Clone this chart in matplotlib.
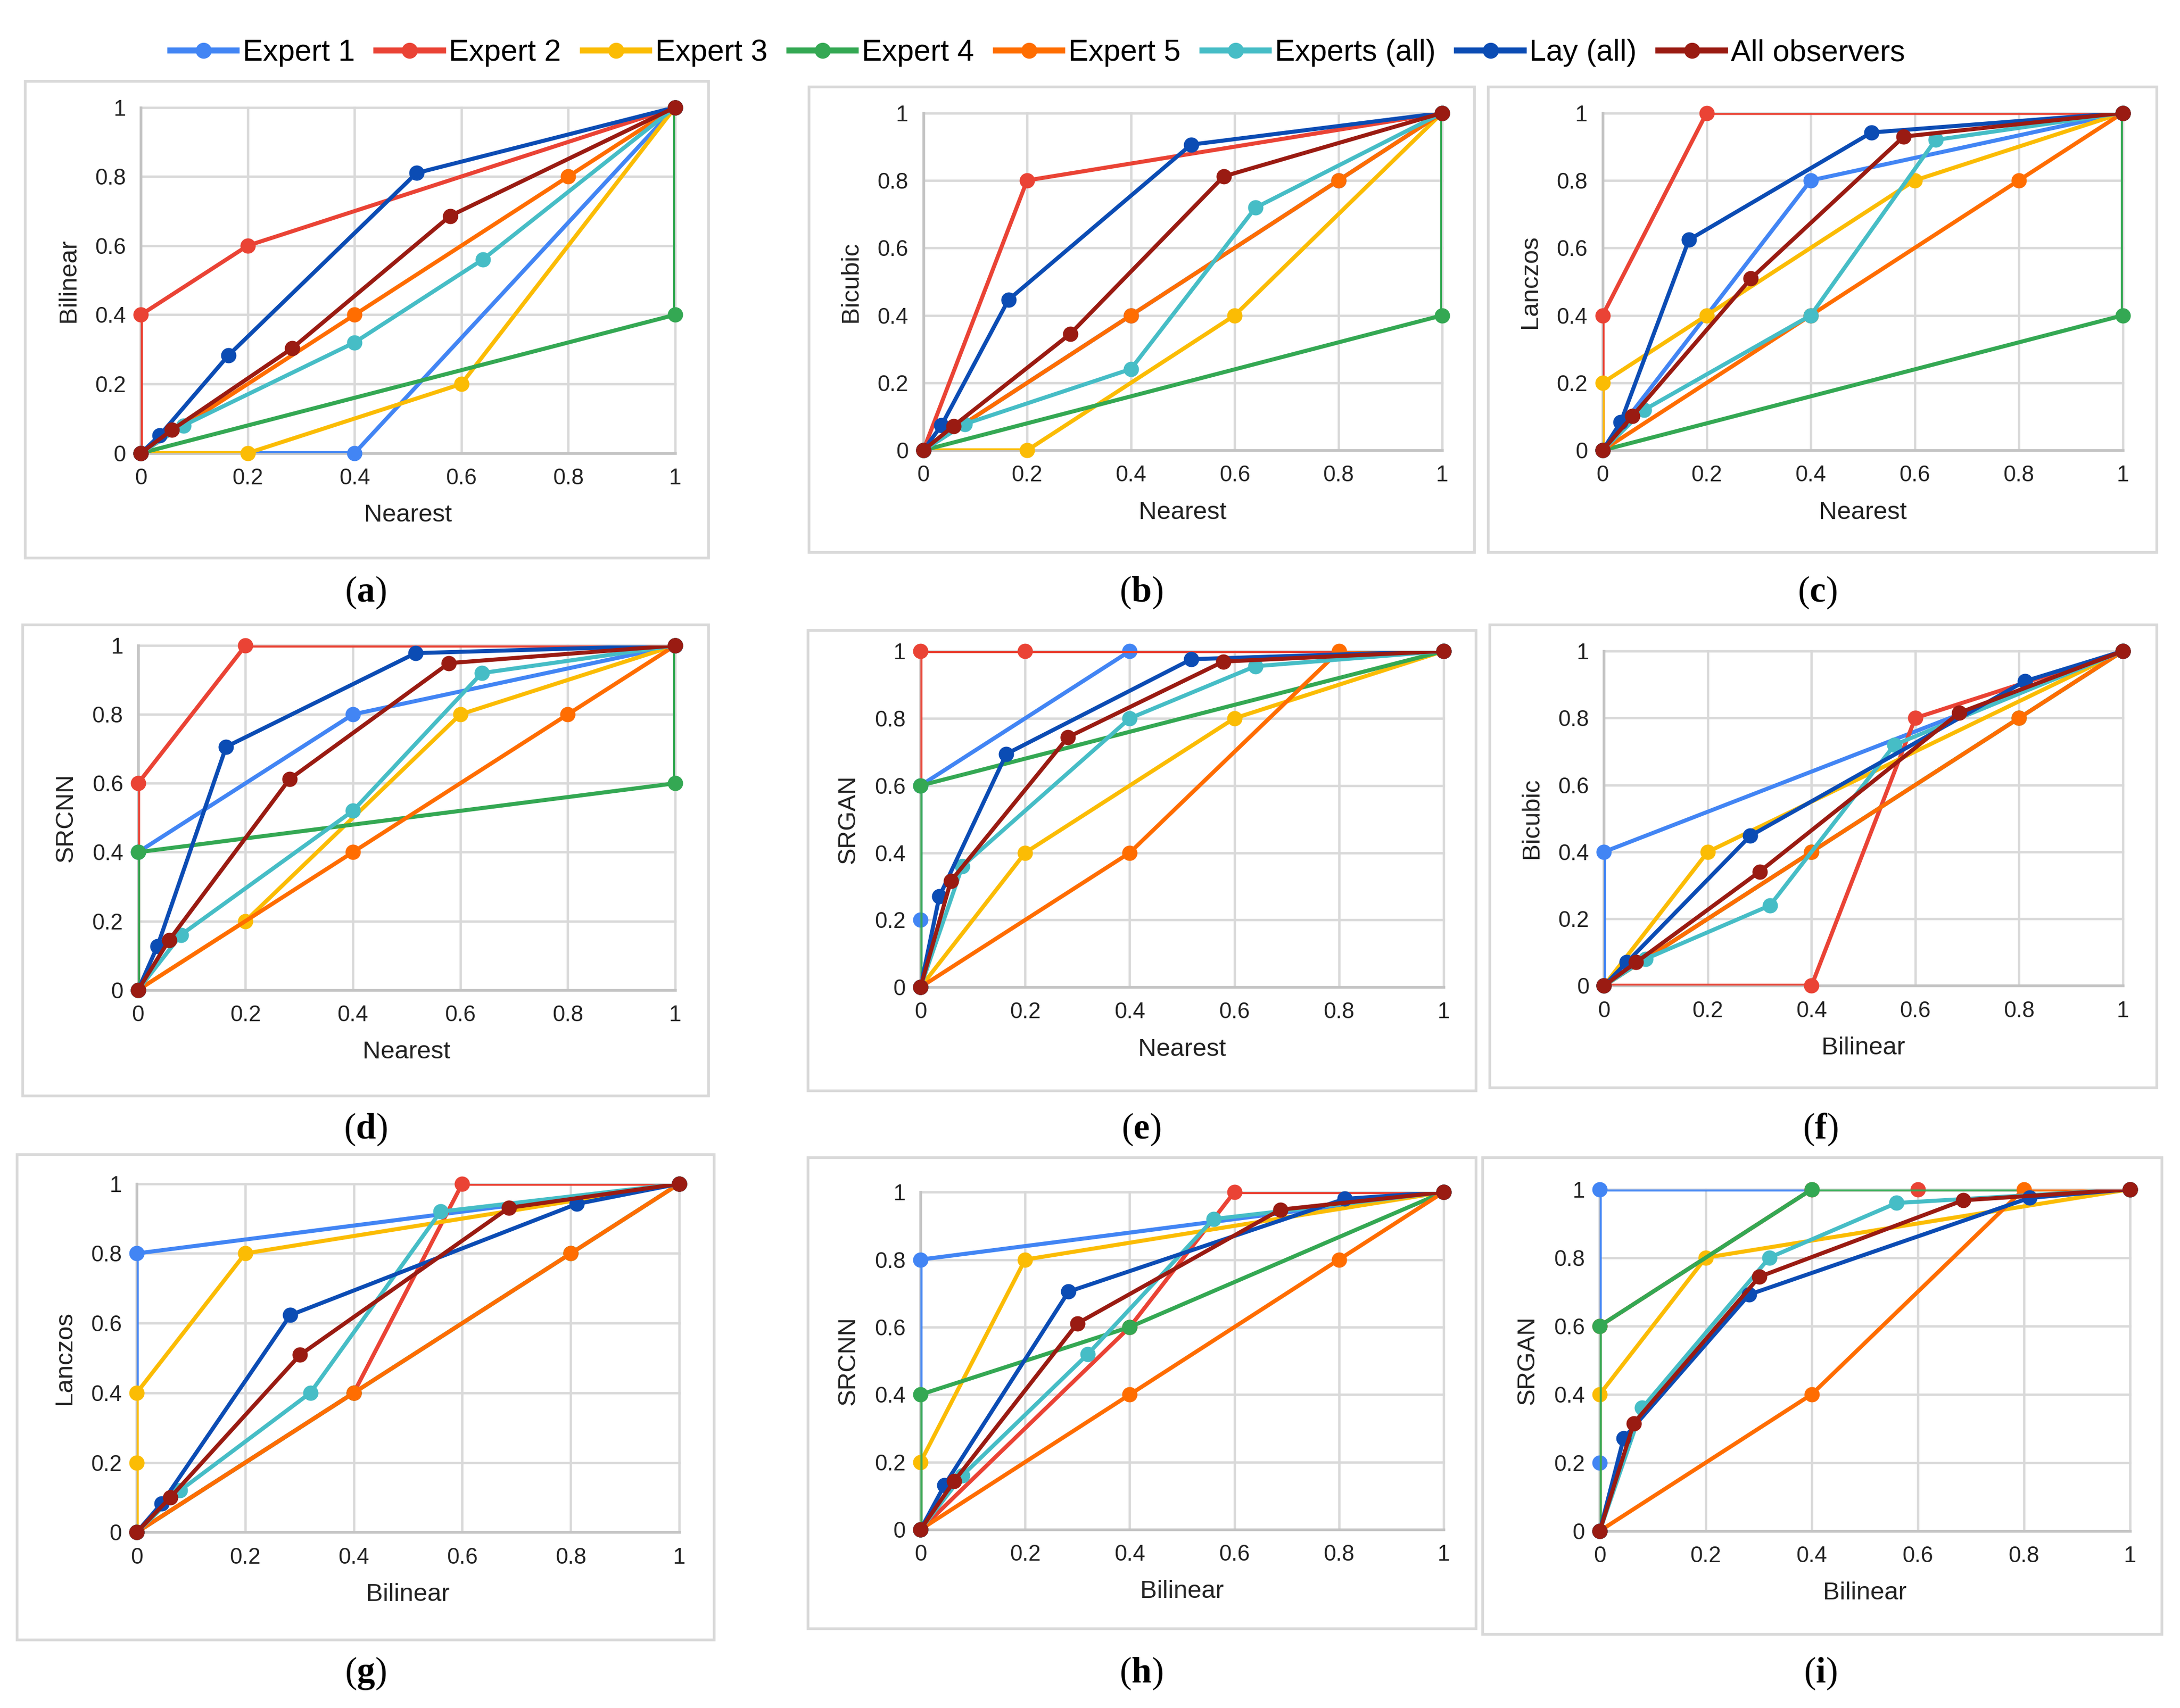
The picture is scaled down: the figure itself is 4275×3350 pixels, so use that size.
import matplotlib
matplotlib.use("Agg")
import matplotlib.pyplot as plt
from matplotlib.patches import Rectangle
from matplotlib.lines import Line2D

# ---------------- data ----------------
series_names = ["Expert 1", "Expert 2", "Expert 3", "Expert 4", "Expert 5",
                "Experts (all)", "Lay (all)", "All observers"]
series_colors = ["#4285F4", "#EA4335", "#FBBC04", "#34A853", "#FF6D01",
                 "#46BDC6", "#0B4CB4", "#9A1B12"]

panel_letters = ["a", "b", "c", "d", "e", "f", "g", "h", "i"]
panel_xlabels = ["Nearest", "Nearest", "Nearest", "Nearest", "Nearest",
                 "Bilinear", "Bilinear", "Bilinear", "Bilinear"]
panel_ylabels = ["Bilinear", "Bicubic", "Lanczos", "SRCNN", "SRGAN",
                 "Bicubic", "Lanczos", "SRCNN", "SRGAN"]
tick_values = [0, 0.2, 0.4, 0.6, 0.8, 1]
tick_labels = ["0", "0.2", "0.4", "0.6", "0.8", "1"]

# (a) Nearest vs Bilinear
a_x = [[0, 0.4, 1], [0, 0, 0.2, 1], [0, 0.2, 0.6, 1], [0, 1, 1], [0, 0.4, 0.8, 1],
       [0, 0.08, 0.40, 0.64, 1], [0, 0.035, 0.164, 0.516, 1], [0, 0.058, 0.283, 0.579, 1]]
a_y = [[0, 0, 1], [0, 0.4, 0.6, 1], [0, 0, 0.2, 1], [0, 0.4, 1], [0, 0.4, 0.8, 1],
       [0, 0.08, 0.32, 0.56, 1], [0, 0.051, 0.283, 0.81, 1], [0, 0.067, 0.303, 0.686, 1]]
# (b) Nearest vs Bicubic
b_x = [[0, 0.4, 0.8, 1], [0, 0.2, 1], [0, 0.2, 0.6, 1], [0, 1, 1], [0, 0.4, 0.8, 1],
       [0, 0.08, 0.40, 0.64, 1], [0, 0.035, 0.164, 0.516, 1], [0, 0.058, 0.283, 0.579, 1]]
b_y = [[0, 0.4, 0.8, 1], [0, 0.8, 1], [0, 0, 0.4, 1], [0, 0.4, 1], [0, 0.4, 0.8, 1],
       [0, 0.078, 0.241, 0.719, 1], [0, 0.074, 0.446, 0.906, 1], [0, 0.072, 0.345, 0.812, 1]]
# (c) Nearest vs Lanczos
c_x = [[0, 0.4, 1], [0, 0, 0.2, 1], [0, 0, 0.2, 0.6, 1], [0, 1, 1], [0, 0.4, 0.8, 1],
       [0, 0.08, 0.40, 0.64, 1], [0, 0.035, 0.166, 0.517, 1], [0, 0.057, 0.285, 0.579, 1]]
c_y = [[0, 0.8, 1], [0, 0.4, 1, 1], [0, 0.2, 0.4, 0.8, 1], [0, 0.4, 1], [0, 0.4, 0.8, 1],
       [0, 0.12, 0.40, 0.92, 1], [0, 0.084, 0.624, 0.942, 1], [0, 0.101, 0.509, 0.930, 1]]
# (d) Nearest vs SRCNN
d_x = [[0, 0, 0.4, 1], [0, 0, 0.2, 1], [0, 0.2, 0.6, 1], [0, 0, 1, 1], [0, 0.4, 0.8, 1],
       [0, 0.08, 0.40, 0.64, 1], [0, 0.036, 0.164, 0.517, 1], [0, 0.058, 0.282, 0.579, 1]]
d_y = [[0, 0.4, 0.8, 1], [0, 0.6, 1, 1], [0, 0.2, 0.8, 1], [0, 0.4, 0.6, 1], [0, 0.4, 0.8, 1],
       [0, 0.16, 0.52, 0.92, 1], [0, 0.127, 0.706, 0.978, 1], [0, 0.145, 0.612, 0.949, 1]]
# (e) Nearest vs SRGAN
e_x = [[0, 0, 0, 0.4, 1], [0, 0, 0.2, 1], [0, 0.2, 0.6, 1], [0, 0, 1], [0, 0.4, 0.8, 1],
       [0, 0.08, 0.40, 0.64, 1], [0, 0.036, 0.164, 0.518, 1], [0, 0.058, 0.282, 0.579, 1]]
e_y = [[0, 0.2, 0.6, 1, 1], [0, 1, 1, 1], [0, 0.4, 0.8, 1], [0, 0.6, 1], [0, 0.4, 1, 1],
       [0, 0.36, 0.80, 0.955, 1], [0, 0.270, 0.694, 0.976, 1], [0, 0.316, 0.744, 0.969, 1]]
# (f) Bilinear vs Bicubic
f_x = [[0, 0, 1], [0, 0.4, 0.6, 1], [0, 0.2, 1], [0, 0.4, 0.8, 1], [0, 0.4, 0.8, 1],
       [0, 0.08, 0.32, 0.56, 1], [0, 0.044, 0.282, 0.811, 1], [0, 0.062, 0.300, 0.685, 1]]
f_y = [[0, 0.4, 1], [0, 0, 0.8, 1], [0, 0.4, 1], [0, 0.4, 0.8, 1], [0, 0.4, 0.8, 1],
       [0, 0.08, 0.24, 0.72, 1], [0, 0.070, 0.448, 0.910, 1], [0, 0.070, 0.341, 0.816, 1]]
# (g) Bilinear vs Lanczos
g_x = [[0, 0, 1], [0, 0.4, 0.6, 1], [0, 0, 0, 0.2, 1], [0, 0.4, 0.8, 1], [0, 0.4, 0.8, 1],
       [0, 0.08, 0.32, 0.56, 1], [0, 0.046, 0.283, 0.811, 1], [0, 0.062, 0.301, 0.686, 1]]
g_y = [[0, 0.8, 1], [0, 0.4, 1, 1], [0, 0.2, 0.4, 0.8, 1], [0, 0.4, 0.8, 1], [0, 0.4, 0.8, 1],
       [0, 0.12, 0.40, 0.92, 1], [0, 0.083, 0.623, 0.942, 1], [0, 0.100, 0.509, 0.931, 1]]
# (h) Bilinear vs SRCNN
h_x = [[0, 0, 1], [0, 0.4, 0.6, 1], [0, 0, 0.2, 1], [0, 0, 0.4, 1], [0, 0.4, 0.8, 1],
       [0, 0.08, 0.32, 0.56, 1], [0, 0.046, 0.283, 0.811, 1], [0, 0.064, 0.300, 0.688, 1]]
h_y = [[0, 0.8, 1], [0, 0.6, 1, 1], [0, 0.2, 0.8, 1], [0, 0.4, 0.6, 1], [0, 0.4, 0.8, 1],
       [0, 0.16, 0.52, 0.92, 1], [0, 0.132, 0.705, 0.980, 1], [0, 0.143, 0.611, 0.948, 1]]
# (i) Bilinear vs SRGAN
i_x = [[0, 0, 0, 1], [0, 0, 0.4, 0.6, 1], [0, 0, 0.2, 1], [0, 0, 0.4, 1], [0, 0.4, 0.8, 1],
       [0, 0.08, 0.32, 0.56, 1], [0, 0.045, 0.282, 0.811, 1], [0, 0.064, 0.301, 0.686, 1]]
i_y = [[0, 0.2, 1, 1], [0, 0.6, 1, 1, 1], [0, 0.4, 0.8, 1], [0, 0.6, 1, 1], [0, 0.4, 1, 1],
       [0, 0.36, 0.80, 0.96, 1], [0, 0.271, 0.692, 0.975, 1], [0, 0.315, 0.744, 0.968, 1]]

panel_x = [a_x, b_x, c_x, d_x, e_x, f_x, g_x, h_x, i_x]
panel_y = [a_y, b_y, c_y, d_y, e_y, f_y, g_y, h_y, i_y]

# ---------------- layout (reference pixel grid 1563 x 1225) ----------------
W, H = 1563.0, 1225.0
axes_px = [(101, 484, 77, 325), (662, 1034, 81, 323), (1149, 1522, 81, 323),
           (99, 484, 463, 710), (660, 1035, 467, 708), (1150, 1522, 467, 707),
           (98, 487, 849, 1099), (660, 1035, 855, 1097), (1147, 1527, 853, 1098)]
boxes_px = [(18, 508, 58, 400), (580, 1057, 62, 396), (1067, 1546, 62, 396),
            (16, 508, 448, 786), (579, 1058, 452, 782), (1068, 1546, 448, 780),
            (12, 512, 828, 1176), (579, 1058, 830, 1168), (1063, 1550, 830, 1172)]
caption_px = [(262, 425), (818, 425), (1303, 425),
              (262, 810), (818, 810), (1305, 810),
              (262, 1200), (818, 1200), (1305, 1200)]

plt.rcParams["font.family"] = ["Liberation Sans", "DejaVu Sans"]
plt.rcParams["mathtext.fontset"] = "custom"
plt.rcParams["mathtext.rm"] = "Liberation Serif"
plt.rcParams["mathtext.bf"] = "Liberation Serif:bold"

fig = plt.figure(figsize=(14.25, 11.1667), dpi=300)

LW = 1.9
MS = 6.2
GRID = "#d9d9d9"

for k in range(9):
    x0, x1, yt, yb = axes_px[k]
    ax = fig.add_axes([x0 / W, 1 - yb / H, (x1 - x0) / W, (yb - yt) / H])
    ax.set_xlim(0, 1)
    ax.set_ylim(0, 1)
    for s in ax.spines.values():
        s.set_visible(False)
    for v in tick_values:
        ax.axvline(v, color=GRID, lw=1.1, zorder=0, clip_on=False)
        ax.axhline(v, color=GRID, lw=1.1, zorder=0, clip_on=False)
    ax.axhline(0, color="#c4c4c4", lw=1.3, zorder=0.5, clip_on=False)
    ax.axvline(0, color="#c4c4c4", lw=1.3, zorder=0.5, clip_on=False)
    ax.set_xticks(tick_values)
    ax.set_xticklabels(tick_labels)
    ax.set_yticks(tick_values)
    ax.set_yticklabels(tick_labels)
    ax.tick_params(length=0, labelsize=10.5, colors="#222222", pad=7)
    ax.set_xlabel(panel_xlabels[k], fontsize=11.8, labelpad=7, color="#222222")
    ax.set_ylabel(panel_ylabels[k], fontsize=11.8, labelpad=7, color="#222222")
    xs_all = panel_x[k]
    ys_all = panel_y[k]
    for j in range(8):
        z = 2 + j
        ax.plot(xs_all[j], ys_all[j], color=series_colors[j], lw=LW,
                solid_capstyle="round", zorder=z, clip_on=True)
        ax.plot(xs_all[j], ys_all[j], linestyle="none", marker="o", ms=MS,
                color=series_colors[j], mec=series_colors[j], zorder=z + 0.5,
                clip_on=False)

    bx0, bx1, byt, byb = boxes_px[k]
    fig.add_artist(Rectangle((bx0 / W, 1 - byb / H), (bx1 - bx0) / W, (byb - byt) / H,
                             transform=fig.transFigure, fill=False,
                             edgecolor="#d9d9d9", lw=1.3))
    cx, cy = caption_px[k]
    fig.text(cx / W, 1 - cy / H, r"$(\mathbf{" + panel_letters[k] + r"})$",
             ha="center", va="center", fontsize=17)

handles = [Line2D([0], [0], color=c, lw=2.8, marker="o", ms=6.5, mec=c)
           for c in series_colors]
fig.legend(handles, series_names, loc="center", ncol=8,
           bbox_to_anchor=(744 / W, 1 - 38 / H), frameon=False,
           fontsize=14.2, handlelength=2.2, handletextpad=0.2,
           columnspacing=0.72, borderaxespad=0)

fig.savefig("out.png", dpi=300, facecolor="white")
